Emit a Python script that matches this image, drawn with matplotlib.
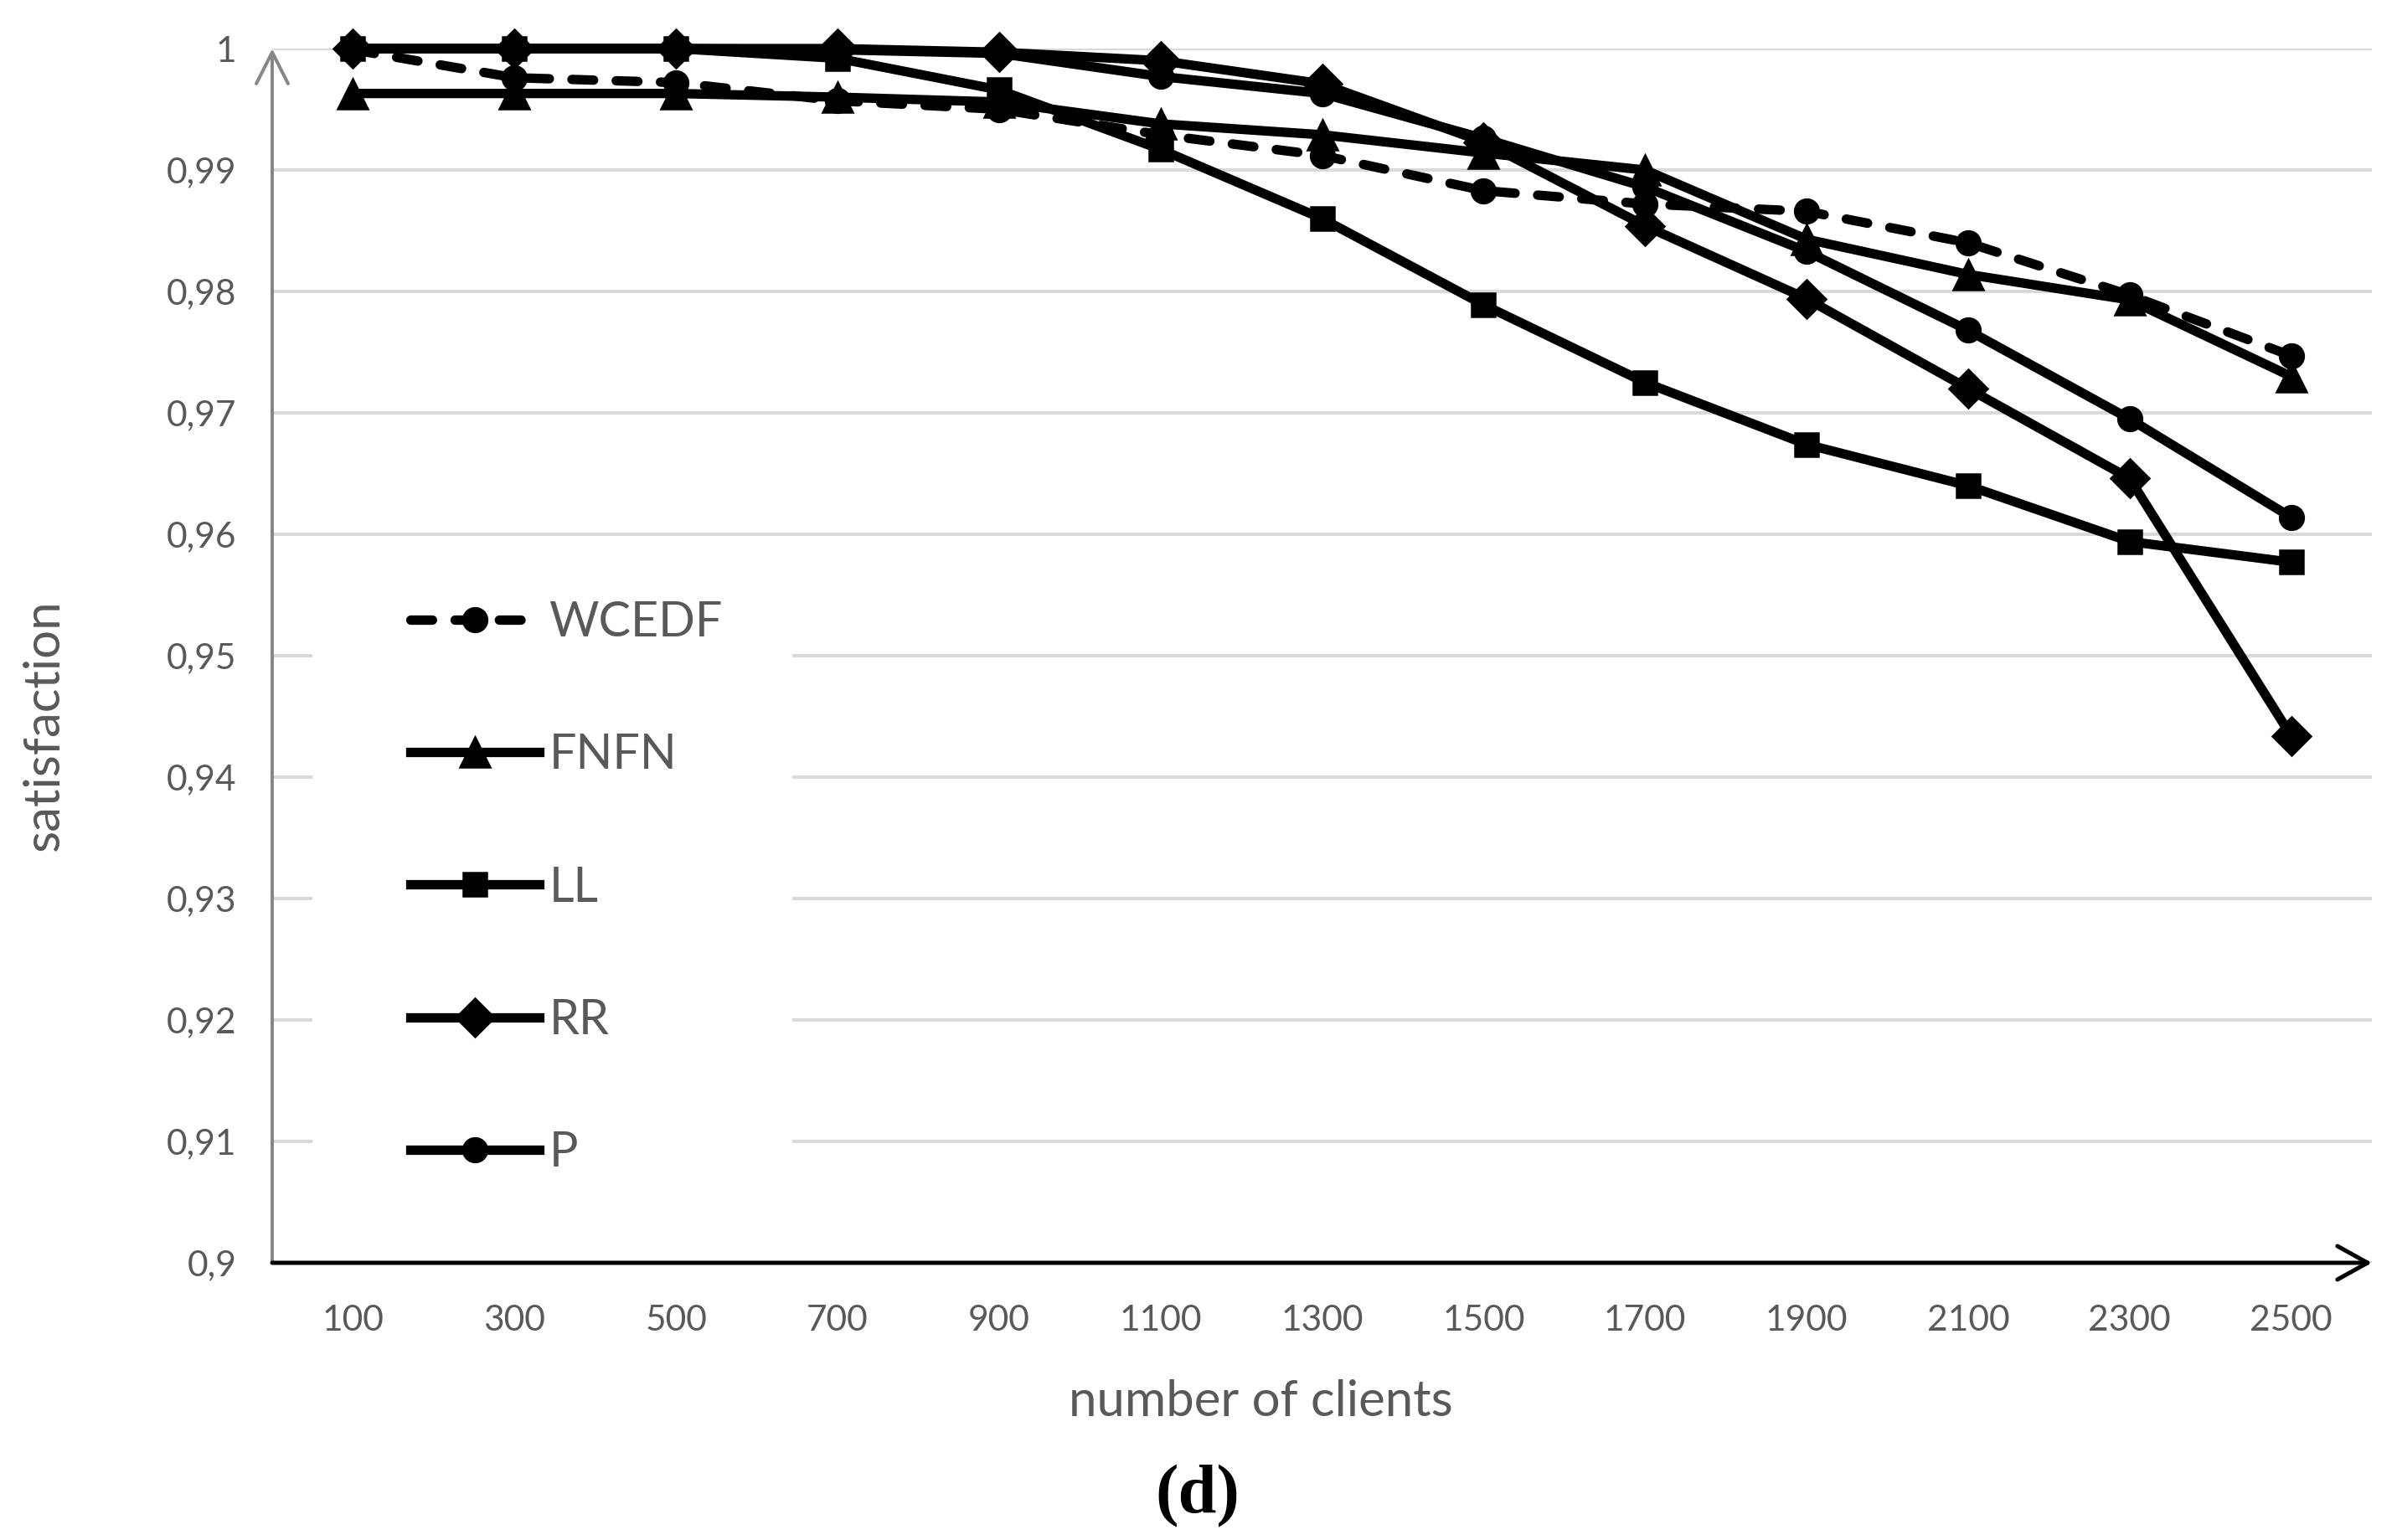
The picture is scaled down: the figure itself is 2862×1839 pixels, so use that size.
import numpy as np
import matplotlib
matplotlib.use("Agg")
import matplotlib.pyplot as plt
from matplotlib.patches import Rectangle

plt.rcParams['font.family'] = ['Lato', 'DejaVu Sans']

# data
clients = ['100', '300', '500', '700', '900', '1100', '1300', '1500',
           '1700', '1900', '2100', '2300', '2500']
wcedf = [0.9999, 0.9976, 0.9972, 0.9957, 0.9950, 0.9929, 0.9912, 0.9883,
         0.9872, 0.9866, 0.9840, 0.9797, 0.9747]
fnfn = [0.9963, 0.9963, 0.9963, 0.9960, 0.9956, 0.9938, 0.9929, 0.9914,
        0.9900, 0.9843, 0.9814, 0.9793, 0.9730]
ll = [1.0, 1.0, 1.0, 0.9992, 0.9966, 0.9917, 0.9860, 0.9789,
      0.9725, 0.9674, 0.9640, 0.9594, 0.9577]
rr = [1.0, 1.0, 1.0, 1.0, 0.9997, 0.9990, 0.9971, 0.9923,
      0.9854, 0.9794, 0.9720, 0.9646, 0.9434]
p = [1.0, 1.0, 1.0, 0.9999, 0.9996, 0.9977, 0.9963, 0.9926,
     0.9886, 0.9833, 0.9768, 0.9695, 0.9614]
yticks = [0.9, 0.91, 0.92, 0.93, 0.94, 0.95, 0.96, 0.97, 0.98, 0.99, 1.0]
ylabels = ['0,9', '0,91', '0,92', '0,93', '0,94', '0,95', '0,96', '0,97',
           '0,98', '0,99', '1']

W, H = 2862, 1839
fig = plt.figure(figsize=(W / 180, H / 180), dpi=180)
ax = fig.add_axes([325 / W, 1 - 1508 / H, (2832 - 325) / W, (1508 - 58) / H])

x = np.arange(len(clients))
txt = '#595959'
lw = 4.5

ax.plot(x, wcedf, color='k', lw=lw, marker='o', ms=11.5, dashes=(2.3, 2.4),
        dash_capstyle='round', label='WCEDF', clip_on=False, zorder=3)
ax.plot(x, fnfn, color='k', lw=lw, marker='^', ms=14.5, label='FNFN',
        clip_on=False, zorder=3)
ax.plot(x, ll, color='k', lw=lw, marker='s', ms=11, label='LL',
        clip_on=False, zorder=3)
ax.plot(x, p, color='k', lw=lw, marker='o', ms=11.5, label='P',
        clip_on=False, zorder=3)
ax.plot(x, rr, color='k', lw=lw, marker='D', ms=13, label='RR',
        clip_on=False, zorder=3)

ax.set_xlim(-0.5, len(clients) - 0.5)
ax.set_ylim(0.9, 1.0)
ax.set_xticks(x)
ax.set_xticklabels(clients)
ax.set_yticks(yticks)
ax.set_yticklabels(ylabels)
ax.tick_params(axis='both', length=0, labelsize=17, labelcolor=txt)
ax.tick_params(axis='y', pad=17)
ax.tick_params(axis='x', pad=20)
ax.grid(axis='y', color='#d9d9d9', lw=1.6, zorder=0)
ax.set_axisbelow(True)
for s in ax.spines.values():
    s.set_visible(False)

# white area behind the legend hides the gridlines
ax.add_patch(Rectangle((-0.25, 0.902), 2.97, 0.055, facecolor='white',
                       edgecolor='none', zorder=1))

# axes with open arrow heads
ax.annotate('', xy=(0, 1), xytext=(0, 0), xycoords='axes fraction',
            arrowprops=dict(arrowstyle='->,head_length=0.75,head_width=0.38',
                            color='#878787', lw=1.6, shrinkA=0, shrinkB=0,
                            mutation_scale=20))
ax.annotate('', xy=(1, 0), xytext=(0, 0), xycoords='axes fraction',
            arrowprops=dict(arrowstyle='->,head_length=0.72,head_width=0.4',
                            color='black', lw=2.0, shrinkA=0, shrinkB=0,
                            mutation_scale=20), zorder=4)

handles, labels = ax.get_legend_handles_labels()
order = [0, 1, 2, 4, 3]
leg = fig.legend([handles[i] for i in order], [labels[i] for i in order],
                 loc='center left', bbox_to_anchor=(490 / W, 1 - 1060 / H),
                 frameon=False, fontsize=23, handlelength=2.68,
                 handletextpad=0.2, labelspacing=1.83, borderpad=0,
                 borderaxespad=0, numpoints=1)
for t in leg.get_texts():
    t.set_color(txt)

fig.text(1505 / W, 1 - 1674 / H, 'number of clients', fontsize=24,
         color=txt, ha='center', va='center')
fig.text(53 / W, 1 - 866 / H, 'satisfaction', fontsize=24, color=txt,
         ha='center', va='center', rotation=90)
fig.text(1430 / W, 1 - 1787 / H, '(d)', fontsize=33, fontweight='bold',
         family='Liberation Serif', ha='center', va='center')

fig.savefig('out.png', dpi=180)
